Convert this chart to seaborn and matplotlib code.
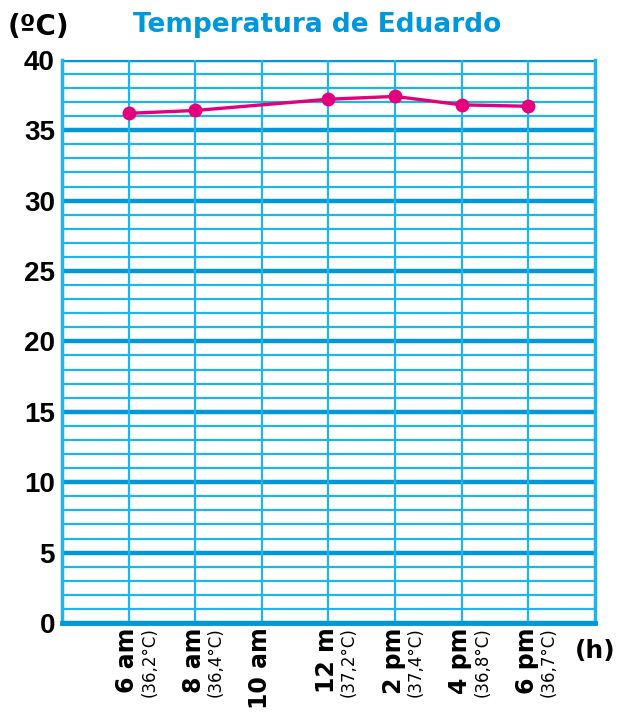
import numpy as np
import pandas as pd
import matplotlib
matplotlib.use("Agg")
import matplotlib.pyplot as plt
import matplotlib.transforms as mtransforms
import seaborn as sns

# datos
horas = ["6 am", "8 am", "10 am", "12 m", "2 pm", "4 pm", "6 pm"]
posiciones = [1, 2, 3, 4, 5, 6, 7]
etiquetas_temp = ["(36,2°C)", "(36,4°C)", "", "(37,2°C)", "(37,4°C)", "(36,8°C)", "(36,7°C)"]
horas_medidas = [1, 2, 4, 5, 6, 7]
temperaturas = [36.2, 36.4, 37.2, 37.4, 36.8, 36.7]

df = pd.DataFrame({"hora": horas_medidas, "temp": temperaturas})

azul = "#0098da"
azul_claro = "#1cb6ea"
magenta = "#e4007c"

sns.set_style("white")
plt.rcParams["font.family"] = ["DejaVu Sans"]
plt.rcParams["text.color"] = "black"

fig = plt.figure(figsize=(6.19, 7.12), dpi=100)
ax = fig.add_axes([0.100, 0.125, 0.861, 0.791])

# cuadricula
for v in range(0, 41):
    if v % 5 == 0:
        ax.axhline(v, color=azul, lw=3.2, zorder=1)
    else:
        ax.axhline(v, color=azul_claro, lw=1.6, zorder=1)
for x in posiciones:
    ax.axvline(x, color=azul_claro, lw=1.6, zorder=1)

sns.lineplot(data=df, x="hora", y="temp", ax=ax, color=magenta, lw=2.4,
             marker="o", markersize=10, markeredgewidth=0, zorder=3)

ax.set_xlim(0, 8)
ax.set_ylim(0, 40)
ax.set_yticks(range(0, 41, 5))
ax.set_yticklabels([str(v) for v in range(0, 41, 5)], fontsize=20, fontweight="bold",
                   family="Liberation Sans", color="black")
ax.set_xticks([])
ax.tick_params(axis="y", length=0, pad=5)
ax.set_xlabel("")
ax.set_ylabel("")

for s in ["left", "right"]:
    ax.spines[s].set_color(azul_claro)
    ax.spines[s].set_linewidth(2.5)
ax.spines["top"].set_visible(False)
ax.spines["bottom"].set_color(azul)
ax.spines["bottom"].set_linewidth(3.5)

trans = mtransforms.blended_transform_factory(ax.transData, ax.transAxes)
for p, h, t in zip(posiciones, horas, etiquetas_temp):
    ax.text(p - 0.02, -0.008, h, transform=trans, rotation=90, ha="center", va="top",
            fontsize=17, fontweight="bold", color="black")
    if t:
        ax.text(p + 0.31, -0.008, t, transform=trans, rotation=90, ha="center", va="top",
                fontsize=12, color="black")

fig.text(0.012, 0.962, "(ºC)", fontsize=20, fontweight="bold", ha="left", va="center")
fig.text(0.995, 0.085, "(h)", fontsize=18, fontweight="bold", ha="right", va="center")
fig.text(0.512, 0.965, "Temperatura de Eduardo", fontsize=19, fontweight="bold",
         color=azul, ha="center", va="center")

fig.savefig("out.png", dpi=100)
